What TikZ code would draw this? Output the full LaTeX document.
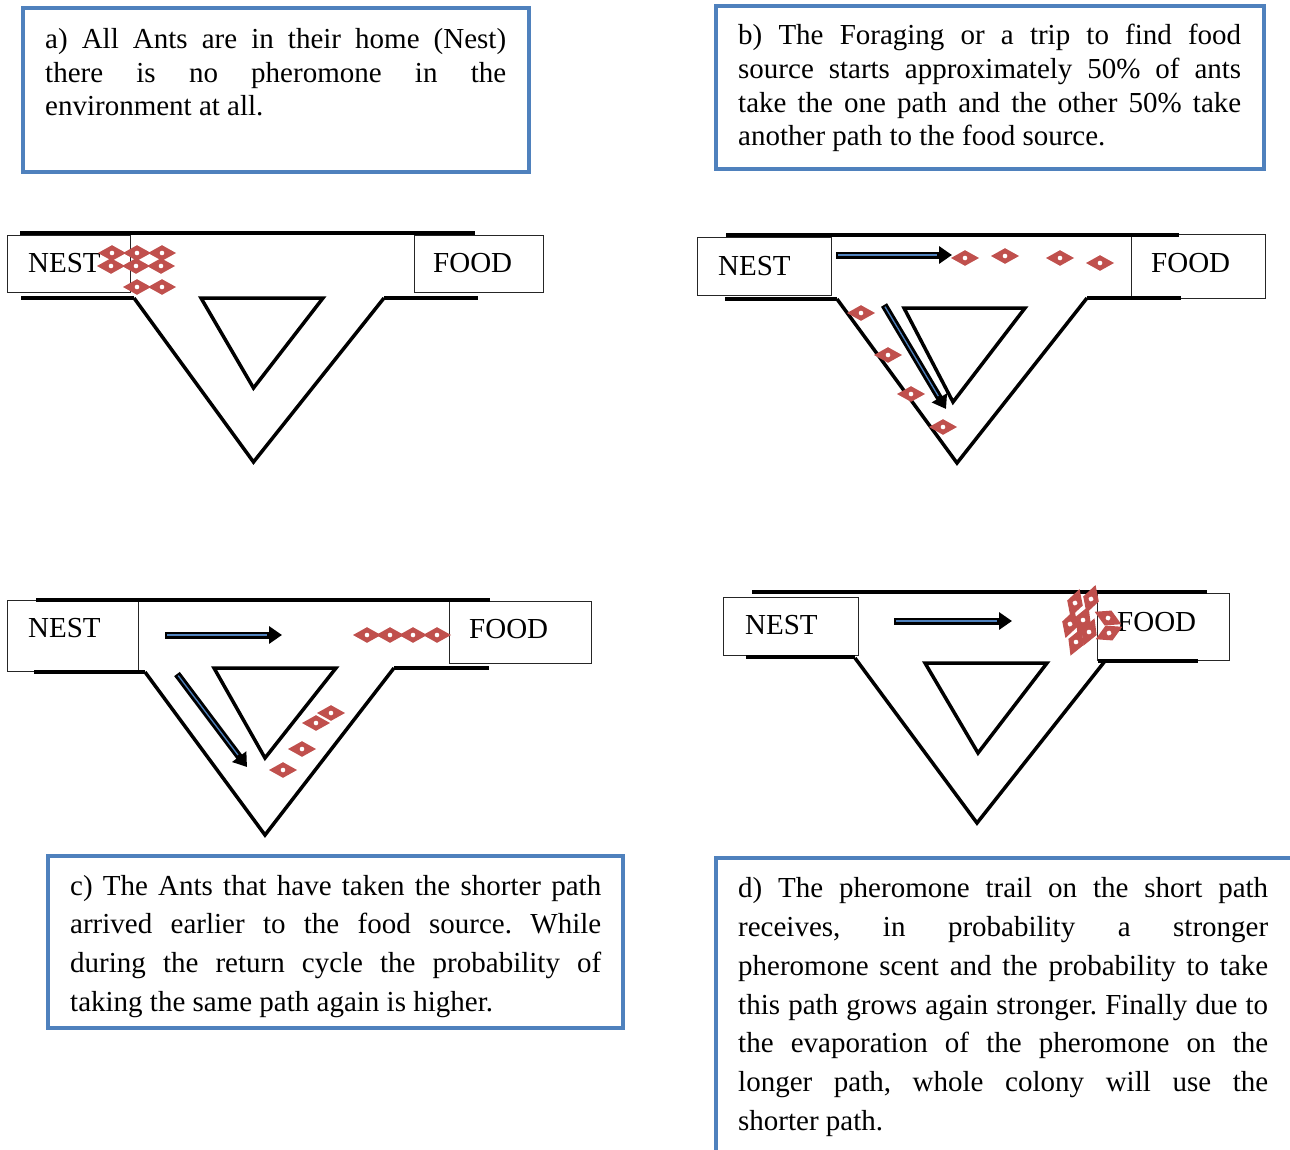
\documentclass[tikz,border=0pt]{standalone}
\usepackage{fontspec}
\setmainfont{Liberation Serif}
\usetikzlibrary{arrows.meta,calc}
\definecolor{boxblue}{HTML}{4F81BD}
\definecolor{antred}{HTML}{C0504D}
\frenchspacing
\newcommand{\jline}[2]{\makebox[#1][s]{#2}}
\tikzset{
  panel/.style={draw=boxblue, line width=4pt},
  txt/.style={anchor=base west, inner sep=0pt, font=\fontsize{29}{34}\selectfont\frenchspacing},
  wall/.style={draw=black, line width=3.5pt},
  room/.style={draw=black!85, line width=1.1pt, anchor=north west, inner sep=0pt},
  arrowblk/.style={draw=black, line width=7pt, -{Triangle[length=13pt,width=17pt]}},
  arrowstripe/.style={draw=boxblue, line width=1.3pt, shorten >=15pt, shorten <=2pt},
  ant/.pic={
    \fill[antred] (-14,0) -- (0,-7.8) -- (14,0) -- (0,7.8) -- cycle;
    \fill[white] (0,0) circle (2.3);
  }
}
\begin{document}
\begin{tikzpicture}[x=1pt,y=-1pt]
\useasboundingbox (0,0) rectangle (1290,1149);
\clip (0,0) rectangle (1290,1149);
\fill[white] (0,0) rectangle (1290,1149);

% ---------- text panels ----------
\draw[panel] (23,8) rectangle (529,172);
\node[txt] (ta1) at (45,48) {\jline{461pt}{a) All Ants are in their home (Nest)}};
\node[txt] (ta2) at (45,82) {\jline{461pt}{there is no pheromone in the}};
\node[txt] (ta3) at (45,115) {environment at all.};

\draw[panel] (716,6) rectangle (1264,169);
\node[txt] (tb1) at (738,44) {\jline{503pt}{b) The Foraging or a trip to find food}};
\node[txt] (tb2) at (738,78) {\jline{503pt}{source starts approximately 50\% of ants}};
\node[txt] (tb3) at (738,112) {\jline{503pt}{take the one path and the other 50\% take}};
\node[txt] (tb4) at (738,145) {another path to the food source.};

\draw[panel] (48,856) rectangle (623,1028);
\node[txt] (tc1) at (70,895) {\jline{531pt}{c) The Ants that have taken the shorter path}};
\node[txt] (tc2) at (70,933) {\jline{531pt}{arrived earlier to the food source. While}};
\node[txt] (tc3) at (70,972) {\jline{531pt}{during the return cycle the probability of}};
\node[txt] (tc4) at (70,1011) {taking the same path again is higher.};

\draw[panel] (1300,858) -- (716,858) -- (716,1160);
\node[txt] (td1) at (738,897) {\jline{530pt}{d) The pheromone trail on the short path}};
\node[txt] (td2) at (738,936) {\jline{530pt}{receives, in probability a stronger}};
\node[txt] (td3) at (738,975) {\jline{530pt}{pheromone scent and the probability to take}};
\node[txt] (td4) at (738,1014) {\jline{530pt}{this path grows again stronger. Finally due to}};
\node[txt] (td5) at (738,1052) {\jline{530pt}{the evaporation of the pheromone on the}};
\node[txt] (td6) at (738,1091) {\jline{530pt}{longer path, whole colony will use the}};
\node[txt] (td7) at (738,1130) {shorter path.};

% ---------- panel a ----------
\node[room, minimum width=123pt, minimum height=57pt] (nestA) at (7,235) {};
\node[room, minimum width=129pt, minimum height=57pt] (foodA) at (414,235) {};
\node[txt] (nestAl) at (28,272) {NEST};
\node[txt] (foodAl) at (433,272) {FOOD};
\draw[wall] (20,233) -- (475,233);
\draw[wall] (21,298) -- (134,298);
\draw[wall] (134,298) -- (253.5,462) -- (384,298);
\draw[wall] (384,298) -- (478,298);
\draw[wall] (201,298) -- (323,298) -- (253.5,388) -- cycle;
\foreach \p in {(112,253),(137,253),(162,253),(111,266),(136,266),(161,266),(137,287),(162,287)}
  \pic at \p {ant};

% ---------- panel b ----------
\node[room, minimum width=134pt, minimum height=58pt] (nestB) at (697,237) {};
\node[room, minimum width=134pt, minimum height=64pt] (foodB) at (1131,234) {};
\node[txt] (nestBl) at (718,275) {NEST};
\node[txt] (foodBl) at (1151,272) {FOOD};
\draw[wall] (726,235) -- (1179,235);
\draw[wall] (725,299) -- (837,299);
\draw[wall] (837,299) -- (957,463) -- (1087,298);
\draw[wall] (1087,298) -- (1181,298);
\draw[wall] (904,308) -- (1025,308) -- (953,402) -- cycle;
\coordinate (bh1) at (836,255);
\coordinate (bh2) at (952,255);
\coordinate (bd1) at (884,305);
\coordinate (bd2) at (946,409);
\draw[arrowblk] (bh1) -- (bh2);
\draw[arrowstripe] (bh1) -- (bh2);
\draw[arrowblk] (bd1) -- (bd2);
\draw[arrowstripe] (bd1) -- (bd2);
\foreach \p in {(965,258),(1005,256),(1060,258),(1100,263),(861,313),(888,355),(911,394),(943,427)}
  \pic at \p {ant};

% ---------- panel c ----------
\node[room, minimum width=131pt, minimum height=71pt] (nestC) at (7,600) {};
\node[room, minimum width=142pt, minimum height=62pt] (foodC) at (449,601) {};
\node[txt] (nestCl) at (28,637) {NEST};
\node[txt] (foodCl) at (469,638) {FOOD};
\draw[wall] (36,600) -- (490,600);
\draw[wall] (34,672) -- (145,672);
\draw[wall] (145,672) -- (265,835) -- (394,668);
\draw[wall] (394,668) -- (489,668);
\draw[wall] (214,668) -- (336,668) -- (265,758) -- cycle;
\coordinate (ch1) at (165,635);
\coordinate (ch2) at (282,635);
\coordinate (cd1) at (177,674);
\coordinate (cd2) at (247,767);
\draw[arrowblk] (ch1) -- (ch2);
\draw[arrowstripe] (ch1) -- (ch2);
\draw[arrowblk] (cd1) -- (cd2);
\draw[arrowstripe] (cd1) -- (cd2);
\foreach \p in {(367,635),(390,635),(413,635),(437,635),(331,713),(316,723),(302,749),(283,770)}
  \pic at \p {ant};

% ---------- panel d ----------
\node[room, minimum width=135pt, minimum height=58pt] (nestD) at (723,597) {};
\node[room, minimum width=132pt, minimum height=67pt] (foodD) at (1097,593) {};
\node[txt] (nestDl) at (745,634) {NEST};
\node[txt] (foodDl) at (1117,631) {FOOD};
\draw[wall] (752,592) -- (1207,592);
\draw[wall] (746,657) -- (855,657);
\draw[wall] (855,658) -- (977,823) -- (1105,661);
\draw[wall] (1098,661) -- (1198,661);
\draw[wall] (925,663) -- (1047,663) -- (978,753) -- cycle;
\coordinate (dh1) at (894,621);
\coordinate (dh2) at (1012,621);
\draw[arrowblk] (dh1) -- (dh2);
\draw[arrowstripe] (dh1) -- (dh2);
\foreach \p/\r in {(1075,603)/72,(1091,599)/72,(1070,624)/72,(1083,620)/68,(1089,632)/68,(1076,642)/68,(1108,618)/-25,(1109,633)/25}
  \pic[rotate=\r, scale=1.05] at \p {ant};
\end{tikzpicture}
\end{document}
